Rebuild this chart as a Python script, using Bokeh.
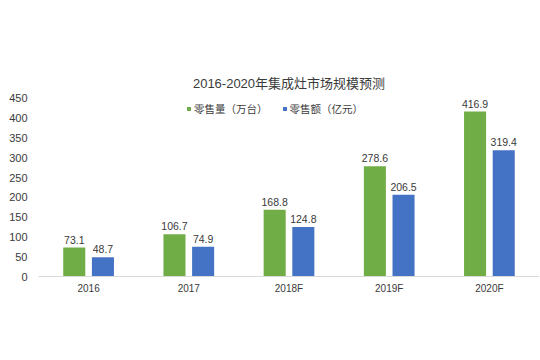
from bokeh.plotting import figure
from bokeh.models import FactorRange, Range1d, FixedTicker, Legend, LegendItem, ColumnDataSource
from bokeh.transform import dodge
from bokeh.core.properties import value
from bokeh.embed import file_html
from bokeh.resources import INLINE

years = ["2016", "2017", "2018F", "2019F", "2020F"]
volume = [73.1, 106.7, 168.8, 278.6, 416.9]      # 零售量（万台）
revenue = [48.7, 74.9, 124.8, 206.5, 319.4]      # 零售额（亿元）
y_ticks = [0, 50, 100, 150, 200, 250, 300, 350, 400, 450]
title_text = "2016-2020年集成灶市场规模预测"
series_names = ["零售量（万台）", "零售额（亿元）"]

GREEN = "#70AD47"
BLUE = "#4472C4"
TXT = "#3A3A3A"
FONT = "Liberation Sans, Noto Sans CJK SC"

src = ColumnDataSource(dict(
    years=years, volume=volume, revenue=revenue,
    vlab=[f"{v:.1f}" for v in volume], rlab=[f"{v:.1f}" for v in revenue],
))

p = figure(width=539, height=344, x_range=FactorRange(*years), y_range=Range1d(0, 460),
           output_backend="svg", toolbar_location=None, title=title_text,
           min_border_left=38, min_border_right=0, min_border_top=94, min_border_bottom=68)
p.outline_line_color = None
p.xgrid.visible = False
p.ygrid.visible = False
p.x_range.range_padding = 0

p.title.align = "center"
p.title.offset = -15
p.title.standoff = 7
p.title.text_font = FONT
p.title.text_font_size = "13px"
p.title.text_font_style = "normal"
p.title.text_color = TXT

off = 0.143
bw = 0.22
r1 = p.vbar(x=dodge("years", -off, range=p.x_range), top="volume", width=bw, source=src,
            fill_color=GREEN, line_color=None)
r2 = p.vbar(x=dodge("years", off, range=p.x_range), top="revenue", width=bw, source=src,
            fill_color=BLUE, line_color=None)

for col, lab, dx in (("volume", "vlab", -off), ("revenue", "rlab", off)):
    p.text(x=dodge("years", dx, range=p.x_range), y=col, text=lab, source=src,
           text_align="center", text_baseline="bottom", y_offset=-4,
           text_font=value(FONT), text_font_size="10.5px", text_color=TXT)

# axes
p.yaxis.ticker = FixedTicker(ticks=y_ticks)
p.yaxis.axis_line_color = None
p.yaxis.major_tick_line_color = None
p.yaxis.major_tick_out = 0
p.yaxis.minor_tick_out = 0
p.yaxis.minor_tick_line_color = None
p.yaxis.major_label_standoff = 11
p.yaxis.major_label_text_font = FONT
p.yaxis.major_label_text_font_size = "11px"
p.yaxis.major_label_text_color = TXT

p.xaxis.axis_line_color = "#D9D9D9"
p.xaxis.major_tick_line_color = None
p.xaxis.major_tick_out = 0
p.xaxis.minor_tick_out = 0
p.xaxis.minor_tick_line_color = None
p.xaxis.major_label_standoff = 6
p.xaxis.major_label_text_font = FONT
p.xaxis.major_label_text_font_size = "10px"
p.xaxis.major_label_text_color = TXT

legend = Legend(items=[LegendItem(label=series_names[0], renderers=[r1]),
                       LegendItem(label=series_names[1], renderers=[r2])],
                orientation="horizontal", location=(148, 160),
                glyph_width=5, glyph_height=5, label_height=10, label_standoff=3,
                spacing=14, padding=0, margin=0,
                border_line_color=None, background_fill_alpha=0,
                label_text_font=FONT, label_text_font_size="10.5px", label_text_color=TXT)
p.add_layout(legend)

open("out.html", "w").write(file_html(p, INLINE))
